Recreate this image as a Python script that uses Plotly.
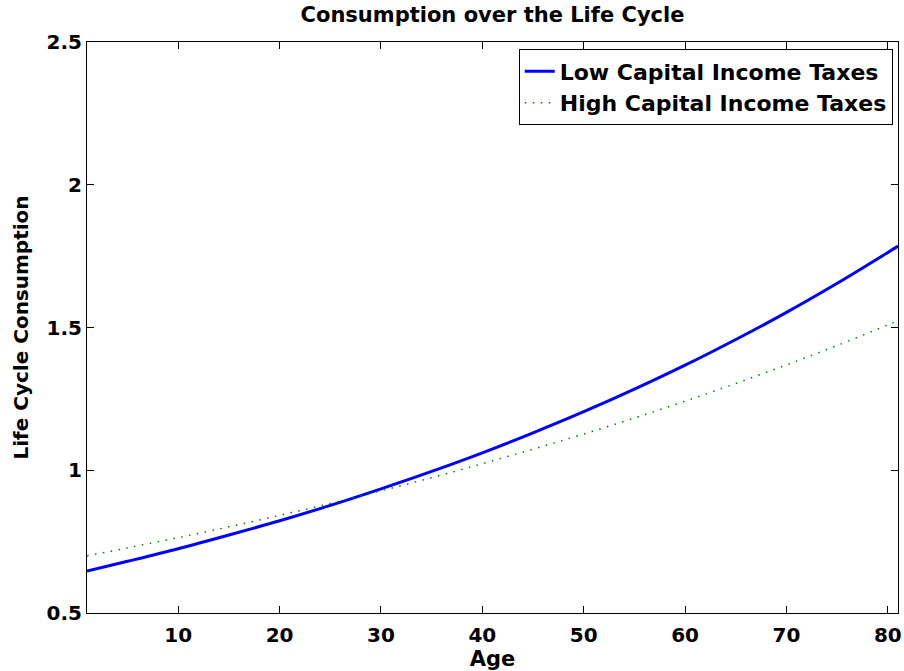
import plotly.graph_objects as go

ages = [1, 5, 10, 15, 20, 25, 30, 35, 40, 45, 50, 55, 60, 65, 70, 75, 80, 81]
low_tax = [0.647, 0.681, 0.725, 0.773, 0.823, 0.877, 0.935, 0.996, 1.061, 1.131,
           1.205, 1.284, 1.368, 1.458, 1.553, 1.655, 1.763, 1.785]
high_tax = [0.700, 0.728, 0.764, 0.802, 0.842, 0.884, 0.928, 0.974, 1.023, 1.074,
            1.127, 1.183, 1.242, 1.304, 1.369, 1.437, 1.509, 1.523]
x_ticks = [10, 20, 30, 40, 50, 60, 70, 80]
y_ticks = [0.5, 1, 1.5, 2, 2.5]
y_tick_text = ["0.5", "1", "1.5", "2", "2.5"]

FONT = "DejaVu Sans, Arial, Helvetica, sans-serif"

fig = go.Figure()
fig.add_trace(go.Scatter(x=ages, y=low_tax, mode="lines", line_shape="spline",
                         name="<b>Low Capital Income Taxes</b>",
                         line=dict(color="#0000ff", width=3)))
fig.add_trace(go.Scatter(x=ages, y=high_tax, mode="lines", line_shape="spline",
                         name="<b>High Capital Income Taxes</b>",
                         line=dict(color="#008000", width=1.5, dash="1.5px,6.5px")))

axis_common = dict(showline=True, linecolor="black", linewidth=1, mirror="ticks",
                   ticks="inside", ticklen=7, tickcolor="black", tickwidth=1,
                   showgrid=False, zeroline=False, automargin=False,
                   tickfont=dict(family=FONT, size=20, color="black"))

fig.update_layout(
    width=904, height=671,
    margin=dict(l=87, r=6, t=42, b=58),
    paper_bgcolor="white", plot_bgcolor="white",
    title=dict(text="<b>Consumption over the Life Cycle</b>", x=0.5, xanchor="center",
               xref="paper", y=0.978, yanchor="middle",
               font=dict(family=FONT, size=21, color="black")),
    xaxis=dict(range=[1, 81], tickvals=x_ticks,
               ticktext=[f"<b>{t}</b>" for t in x_ticks],
               ticklabelstandoff=4,
               title=dict(text="<b>Age</b>", standoff=0,
                          font=dict(family=FONT, size=21, color="black")),
               **axis_common),
    yaxis=dict(range=[0.5, 2.5], tickvals=y_ticks,
               ticktext=[f"<b>{t}</b>" for t in y_tick_text],
               title=dict(text="<b>Life Cycle Consumption</b>", standoff=12,
                          font=dict(family=FONT, size=20, color="black")),
               **axis_common),
    legend=dict(x=0.9935, y=0.987, xanchor="right", yanchor="top",
                bgcolor="white", bordercolor="black", borderwidth=1,
                font=dict(family=FONT, size=22, color="black"),
                tracegroupgap=0, itemwidth=30),
    showlegend=True,
)

fig.write_html(
    "out.html",
    config={"displayModeBar": False},
    post_script="document.body.style.margin='0';document.body.style.overflow='hidden';",
)
